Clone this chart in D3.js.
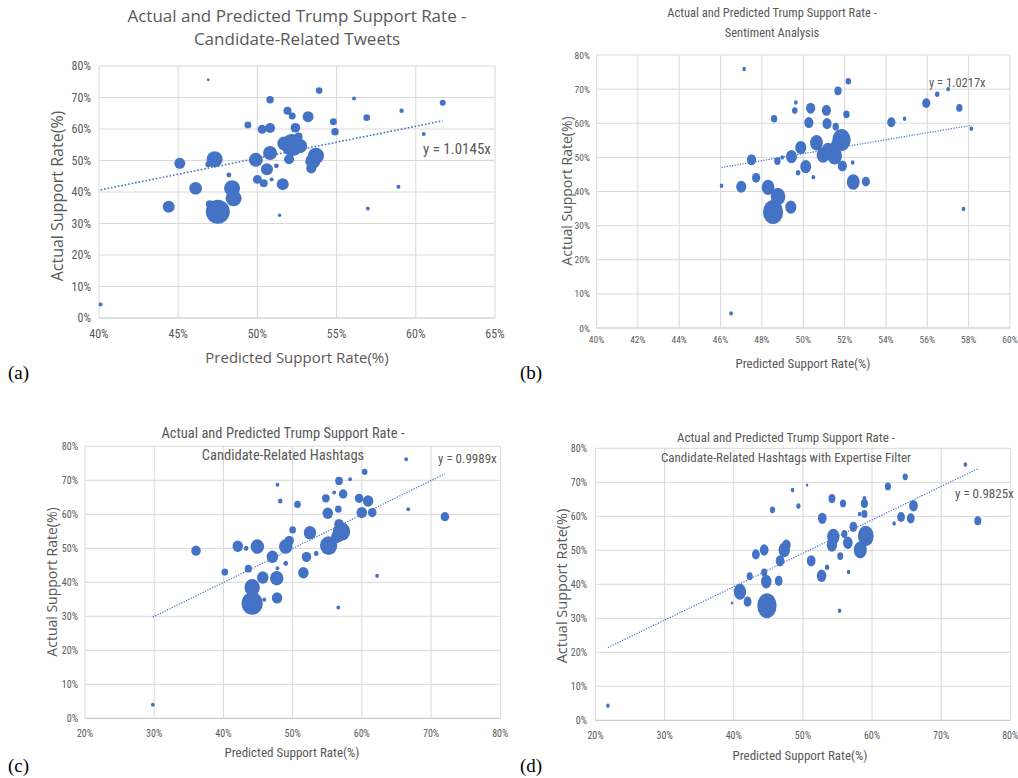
<!DOCTYPE html>
<html>
<head>
<meta charset="utf-8">
<script src="https://cdn.jsdelivr.net/npm/d3@7"></script>
<style>
  body { margin: 0; background: #fff; }
  svg text { fill: #595959; }
  .narrow { font-family: 'Liberation Sans Narrow', 'Arial Narrow', 'Roboto Condensed', sans-serif; }
  .wide { font-family: 'Open Sans', 'DejaVu Sans', sans-serif; }
  .letter { font-family: 'Liberation Serif', 'DejaVu Serif', serif; fill: #000 !important; }
</style>
</head>
<body>
<svg id="chart" width="1018" height="778"></svg>
<script>
'use strict';

// each point: [predicted support %, actual support %, bubble size]
var tweetsPoints = [
  [46.9, 75.6, 2], [50.8, 69.3, 14], [51.9, 65.8, 16], [52.2, 64.1, 12], [53.2, 63.9, 30],
  [53.9, 72.2, 11], [56.1, 69.7, 4], [56.9, 63.6, 11], [54.8, 62.3, 12], [54.9, 59.1, 14],
  [49.4, 61.3, 12], [50.3, 59.9, 20], [50.8, 60.3, 25], [52.4, 60.4, 23], [52.6, 57.6, 16],
  [52.2, 54.9, 121], [51.7, 55.4, 49], [52.7, 54.6, 49], [52.0, 50.4, 25], [50.8, 52.4, 49],
  [49.9, 50.2, 49], [50.6, 47.2, 36], [51.2, 48.3, 6], [50.0, 44.0, 20], [50.4, 42.8, 16],
  [50.9, 44.0, 4], [51.6, 42.5, 36], [51.4, 32.6, 3], [53.7, 51.5, 64], [53.5, 49.8, 56],
  [53.4, 47.5, 25], [56.97, 34.8, 4], [59.1, 65.8, 5], [61.7, 68.3, 9], [60.5, 58.4, 4],
  [58.9, 41.7, 4], [45.1, 49.1, 30], [44.4, 35.3, 36], [46.1, 41.2, 40], [47.3, 50.4, 64],
  [46.9, 48.8, 9], [48.2, 45.4, 6], [48.4, 41.2, 64], [48.5, 38.0, 64], [47.0, 36.1, 16],
  [47.5, 33.7, 144], [40.1, 4.3, 4]
];

var sentimentPoints = [
  [47.14, 75.9, 4], [48.59, 61.3, 12], [47.5, 49.3, 25], [48.75, 48.9, 12], [48.98, 50.0, 4],
  [49.43, 50.2, 36], [47.72, 44.0, 20], [47.0, 41.4, 30], [48.3, 41.2, 49], [48.78, 38.5, 64],
  [48.54, 34.0, 121], [49.4, 35.4, 36], [46.05, 41.7, 4], [46.51, 4.3, 4], [52.18, 72.3, 9],
  [51.68, 69.5, 16], [49.64, 66.1, 4], [49.59, 63.7, 9], [50.36, 64.4, 25], [51.12, 63.8, 25],
  [52.09, 62.6, 12], [50.27, 60.2, 25], [51.15, 59.9, 25], [51.57, 59.0, 12], [51.85, 55.1, 100],
  [50.64, 54.3, 49], [49.88, 52.9, 36], [50.96, 50.7, 49], [51.52, 50.5, 64], [51.2, 52.0, 49],
  [51.6, 53.5, 36], [50.12, 47.3, 36], [51.89, 47.5, 25], [52.39, 48.5, 4], [49.75, 45.5, 6],
  [50.49, 44.2, 4], [52.42, 42.8, 49], [53.03, 42.9, 20], [54.26, 60.3, 20], [54.9, 61.3, 4],
  [55.95, 65.9, 20], [56.48, 68.5, 6], [57.01, 70.0, 4], [57.55, 64.5, 12], [58.13, 58.4, 4],
  [57.75, 34.9, 4]
];

var hashtagPoints = [
  [36.04, 49.3, 25], [40.2, 43.0, 12], [42.07, 50.6, 30], [43.27, 50.0, 6], [44.9, 50.5, 49],
  [43.6, 44.0, 14], [45.68, 41.4, 36], [47.07, 47.5, 36], [47.8, 68.7, 4], [48.2, 63.9, 6],
  [44.15, 38.5, 64], [44.15, 33.8, 121], [45.9, 34.9, 4], [47.75, 35.4, 30], [47.7, 41.2, 49],
  [29.8, 4.0, 4], [50.7, 62.9, 12], [54.8, 64.7, 16], [56.0, 66.4, 4], [56.7, 69.8, 16],
  [58.3, 70.3, 4], [60.4, 72.5, 9], [57.3, 66.0, 20], [59.6, 64.7, 20], [60.9, 63.9, 30],
  [55.07, 60.3, 30], [56.6, 61.5, 12], [59.99, 60.5, 30], [61.5, 60.5, 20], [57.06, 54.9, 81],
  [56.7, 57.1, 25], [56.4, 53.4, 36], [55.2, 50.8, 81], [52.5, 54.6, 42], [50.0, 55.4, 12],
  [49.5, 52.2, 25], [49.0, 50.5, 49], [52.0, 47.5, 25], [53.4, 48.5, 6], [51.55, 42.8, 30],
  [49.0, 45.6, 6], [47.8, 44.1, 4], [56.6, 32.6, 4], [62.2, 41.9, 4], [66.4, 76.2, 4],
  [66.7, 61.5, 4], [72.0, 59.3, 20]
];

var expertisePoints = [
  [45.6, 61.9, 9], [43.2, 48.8, 20], [44.4, 50.1, 25], [47.3, 50.1, 42], [47.6, 51.5, 25],
  [46.7, 46.9, 25], [42.3, 42.4, 12], [44.4, 43.5, 12], [44.7, 40.8, 36], [46.5, 41.0, 20],
  [40.9, 37.8, 49], [42.0, 34.9, 20], [44.8, 33.7, 121], [39.75, 34.5, 2], [21.8, 4.3, 4],
  [48.5, 67.7, 4], [50.6, 69.2, 2], [49.35, 63.0, 6], [54.2, 65.2, 16], [55.8, 63.8, 12],
  [52.8, 59.4, 25], [51.2, 46.9, 25], [53.5, 45.0, 6], [52.7, 42.5, 30], [56.6, 43.6, 4],
  [55.3, 32.2, 4], [54.4, 54.0, 49], [54.2, 51.6, 36], [55.4, 48.3, 12], [56.0, 54.8, 12],
  [56.5, 52.2, 30], [57.3, 56.9, 20], [58.3, 50.1, 56], [59.1, 54.2, 81], [58.2, 60.7, 4],
  [58.9, 60.7, 12], [58.9, 63.8, 16], [58.9, 65.3, 4], [62.3, 68.8, 12], [64.8, 71.6, 9],
  [63.2, 57.9, 4], [64.2, 59.8, 20], [65.6, 59.4, 20], [66.0, 63.1, 25], [73.5, 75.2, 4],
  [75.3, 58.7, 16]
];

var trendSlopes = [1.0145, 1.0217, 0.9989, 0.9825];
var panelLetters = ['(a)', '(b)', '(c)', '(d)'];
var panelTitles = [
  ['Actual and Predicted Trump Support Rate -', 'Candidate-Related Tweets'],
  ['Actual and Predicted Trump Support Rate -', 'Sentiment Analysis'],
  ['Actual and Predicted Trump Support Rate -', 'Candidate-Related Hashtags'],
  ['Actual and Predicted Trump Support Rate -', 'Candidate-Related Hashtags with Expertise Filter']
];
var yTicks = [0, 10, 20, 30, 40, 50, 60, 70, 80];
var xTicksTweets = [40, 45, 50, 55, 60, 65];
var xTicksSentiment = [40, 42, 44, 46, 48, 50, 52, 54, 56, 58, 60];
var xTicksHashtags = [20, 30, 40, 50, 60, 70, 80];
var yLabel = 'Actual Support Rate(%)';
var xLabel = 'Predicted Support Rate(%)';

// layout of the four excel-like panels
var panels = [
  { points: tweetsPoints, xTicks: xTicksTweets, xRange: [99, 495], yRange: [318, 66], aspect: 1.0, maxR: 12,
    title: { x: 297, y: [15, 38], size: 17, cls: 'wide' }, tick: 12, tickY: 334, tickRight: 91,
    yLab: { x: 57, y: 196, size: 16, cls: 'wide' }, xLab: { x: 297, y: 357, size: 15, cls: 'wide' },
    eq: { x: 423, y: 149, size: 15 }, letter: { x: 8, y: 372 }, dot: 1.6 },
  { points: sentimentPoints, xTicks: xTicksSentiment, xRange: [596.5, 1010], yRange: [328, 55], aspect: 1.2, maxR: 11,
    title: { x: 772, y: [12, 32], size: 12.5, cls: 'narrow' }, tick: 9.5, tickY: 339, tickRight: 590,
    yLab: { x: 566, y: 191, size: 14, cls: 'wide' }, xLab: { x: 803, y: 363, size: 13, cls: 'narrow' },
    eq: { x: 929, y: 82, size: 12.5 }, letter: { x: 520, y: 372 }, dot: 1.2 },
  { points: hashtagPoints, xTicks: xTicksHashtags, xRange: [85, 500.3], yRange: [718.3, 446.3], aspect: 1.08, maxR: 11.5,
    title: { x: 283, y: [433, 455], size: 14.5, cls: 'narrow' }, tick: 10, tickY: 733, tickRight: 78,
    yLab: { x: 51, y: 582, size: 14, cls: 'wide' }, xLab: { x: 292, y: 752, size: 13, cls: 'narrow' },
    eq: { x: 438, y: 458, size: 13 }, letter: { x: 8, y: 765 }, dot: 1.2 },
  { points: expertisePoints, xTicks: xTicksHashtags, xRange: [595.5, 1010.3], yRange: [720.3, 448.3], aspect: 1.3, maxR: 10.5,
    title: { x: 786, y: [437, 457], size: 13, cls: 'narrow' }, tick: 10, tickY: 735, tickRight: 587,
    yLab: { x: 561, y: 586, size: 14.5, cls: 'wide' }, xLab: { x: 800, y: 755, size: 13, cls: 'narrow' },
    eq: { x: 955, y: 493, size: 13 }, letter: { x: 520, y: 765 }, dot: 1.2 }
];

var svg = d3.select('#chart');

function drawPanel(p, i) {
  var x = d3.scaleLinear().domain(d3.extent(p.xTicks)).range(p.xRange);
  var y = d3.scaleLinear().domain([0, 80]).range(p.yRange);
  var r = d3.scaleSqrt().domain([0, 144]).range([0, p.maxR]);
  var g = svg.append('g').attr('class', 'panel');

  //gridlines
  g.append('g').selectAll('line').data(yTicks).join('line')
    .attr('x1', p.xRange[0]).attr('x2', p.xRange[1])
    .attr('y1', function (d) { return y(d); }).attr('y2', function (d) { return y(d); })
    .attr('stroke', function (d) { return d === 0 ? '#bfbfbf' : '#d9d9d9'; }).attr('stroke-width', 1);
  g.append('g').selectAll('line').data(p.xTicks).join('line')
    .attr('x1', function (d) { return x(d); }).attr('x2', function (d) { return x(d); })
    .attr('y1', p.yRange[0]).attr('y2', p.yRange[1])
    .attr('stroke', '#d9d9d9').attr('stroke-width', 1);

  //tick labels
  g.append('g').attr('class', 'narrow').selectAll('text').data(yTicks).join('text')
    .attr('x', p.tickRight).attr('y', function (d) { return y(d); })
    .attr('text-anchor', 'end').attr('dominant-baseline', 'central')
    .style('font-size', p.tick + 'px').text(function (d) { return d + '%'; });
  g.append('g').attr('class', 'narrow').selectAll('text').data(p.xTicks).join('text')
    .attr('x', function (d) { return x(d); }).attr('y', p.tickY)
    .attr('text-anchor', 'middle').attr('dominant-baseline', 'central')
    .style('font-size', p.tick + 'px').text(function (d) { return d + '%'; });

  //bubbles
  g.append('g').selectAll('ellipse').data(p.points).join('ellipse')
    .attr('cx', function (d) { return x(d[0]); })
    .attr('cy', function (d) { return y(d[1]); })
    .attr('rx', function (d) { return r(d[2]); })
    .attr('ry', function (d) { return r(d[2]) * p.aspect; })
    .attr('fill', '#4472c4');

  //trendline through origin
  var ext = d3.extent(p.points, function (d) { return d[0]; });
  g.append('line')
    .attr('x1', x(ext[0])).attr('y1', y(ext[0] * trendSlopes[i]))
    .attr('x2', x(ext[1])).attr('y2', y(ext[1] * trendSlopes[i]))
    .attr('stroke', '#4472c4').attr('stroke-width', p.dot)
    .attr('stroke-dasharray', p.dot + ' ' + (p.dot * 1.2));
  g.append('text').attr('class', 'narrow')
    .attr('x', p.eq.x).attr('y', p.eq.y).attr('dominant-baseline', 'central')
    .style('font-size', p.eq.size + 'px').text('y = ' + trendSlopes[i] + 'x');

  //titles
  g.append('g').attr('class', p.title.cls).selectAll('text').data(panelTitles[i]).join('text')
    .attr('x', p.title.x).attr('y', function (d, k) { return p.title.y[k]; })
    .attr('text-anchor', 'middle').attr('dominant-baseline', 'central')
    .style('font-size', p.title.size + 'px').text(function (d) { return d; });

  g.append('text').attr('class', p.yLab.cls)
    .attr('transform', 'translate(' + p.yLab.x + ',' + p.yLab.y + ') rotate(-90)')
    .attr('text-anchor', 'middle').attr('dominant-baseline', 'central')
    .style('font-size', p.yLab.size + 'px').text(yLabel);
  g.append('text').attr('class', p.xLab.cls)
    .attr('x', p.xLab.x).attr('y', p.xLab.y)
    .attr('text-anchor', 'middle').attr('dominant-baseline', 'central')
    .style('font-size', p.xLab.size + 'px').text(xLabel);

  g.append('text').attr('class', 'letter')
    .attr('x', p.letter.x).attr('y', p.letter.y).attr('dominant-baseline', 'central')
    .style('font-size', '19px').text(panelLetters[i]);
}

panels.forEach(drawPanel);
</script>
</body>
</html>
